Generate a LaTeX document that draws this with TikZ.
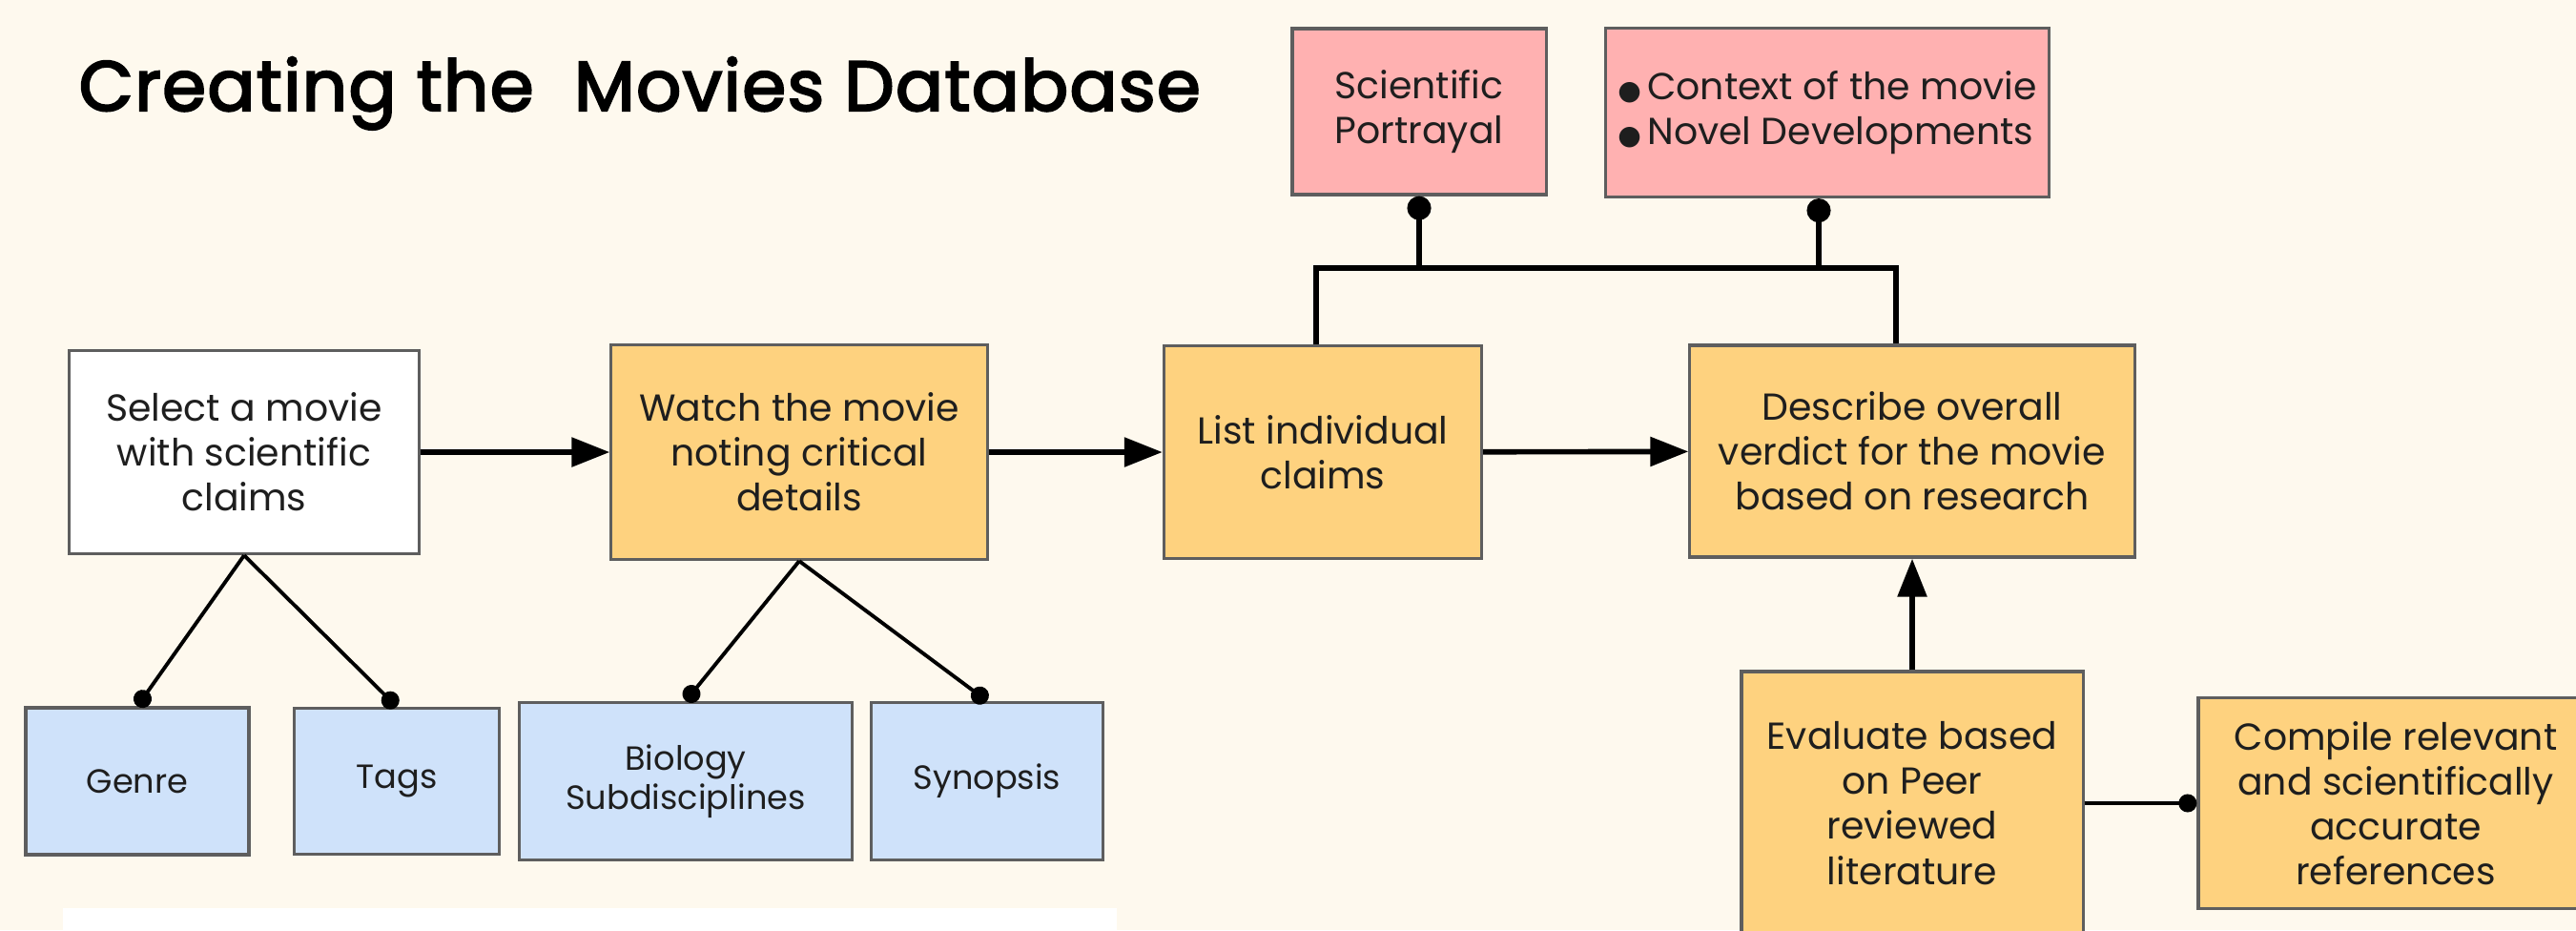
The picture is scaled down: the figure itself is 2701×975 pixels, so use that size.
\documentclass[tikz,border=0pt]{standalone}
\usepackage{fontspec}
\setmainfont{Poppins}
\newfontfamily\symfont{DejaVu Sans}
\newfontfamily\headfont{Poppins}[FakeBold=3, LetterSpace=2]
\usetikzlibrary{arrows.meta}

\definecolor{bg}{HTML}{FEF9EE}
\definecolor{boxline}{HTML}{5E5E5E}
\definecolor{orangebox}{HTML}{FED27F}
\definecolor{pinkbox}{HTML}{FFB1B1}
\definecolor{bluebox}{HTML}{CFE2FA}
\definecolor{ink}{HTML}{1E1E1E}

\tikzset{
  box/.style={draw=boxline, line width=0.9pt, align=center, text=ink, inner sep=0pt,
    font=\fontsize{11.2}{13.4}\selectfont},
  stepbox/.style={box, fill=orangebox},
  infobox/.style={box, fill=pinkbox},
  tagbox/.style={box, fill=bluebox, font=\fontsize{10}{11.7}\selectfont},
  flow/.style={line width=1.6pt, -{Triangle[length=0.40cm, width=0.30cm]}},
  branch/.style={line width=1.1pt, -{Circle[length=0.19cm]}},
  bracket/.style={line width=1.6pt},
  pin/.style={line width=1.6pt, -{Circle[length=0.25cm]}},
}

\newcommand{\bul}{{\symfont\fontsize{8}{8}\selectfont ●}\,}

\begin{document}
\begin{tikzpicture}[x=0.01cm, y=-0.01cm]
  % canvas
  \fill[bg] (0,0) rectangle (2701,975);
  \useasboundingbox (0,0) rectangle (2701,975);

  % heading
  \node[anchor=base west, inner sep=0pt, text=black,
        font=\fontsize{21}{25}\headfont] (title) at (82,116)
        {Creating the \ Movies Database};

  % white panel at the lower left
  \fill[white] (66,952) rectangle (1171,990);

  % main flow
  \node[box, fill=white, minimum width=3.66cm, minimum height=2.13cm] (sel) at (256,474)
    {Select a movie\\with scientific\\claims};
  \node[stepbox, minimum width=3.94cm, minimum height=2.25cm] (watch) at (838,474)
    {Watch the movie\\noting critical\\details};
  \node[stepbox, minimum width=3.33cm, minimum height=2.23cm] (list) at (1387,474)
    {List individual\\claims};
  \node[stepbox, minimum width=4.66cm, minimum height=2.22cm] (desc) at (2005,473)
    {Describe overall\\verdict for the movie\\based on research};

  % attributes
  \node[tagbox, minimum width=2.34cm, minimum height=1.54cm] (genre) at (144,819) {Genre};
  \node[tagbox, minimum width=2.15cm, minimum height=1.53cm] (tags) at (416,819) {Tags};
  \node[tagbox, minimum width=3.49cm, minimum height=1.65cm] (bio) at (719,819)
    {Biology\\Subdisciplines};
  \node[tagbox, minimum width=2.43cm, minimum height=1.65cm] (syn) at (1035,819) {Synopsis};

  % notes on top
  \node[infobox, minimum width=2.66cm, minimum height=1.74cm] (sci) at (1488,117)
    {Scientific\\Portrayal};
  \node[infobox, minimum width=4.65cm, minimum height=1.77cm, align=left] (ctx) at (1916,118)
    {\bul Context of the movie\\\bul Novel Developments};

  % research steps
  \node[stepbox, minimum width=3.58cm, minimum height=2.76cm] (eval) at (2005,842)
    {Evaluate based\\on Peer\\reviewed\\literature};
  \node[stepbox, minimum width=4.14cm, minimum height=2.21cm] (comp) at (2512,842)
    {Compile relevant\\and scientifically\\accurate\\references};

  % arrows between steps
  \draw[flow] (sel) -- (watch);
  \draw[flow] (watch) -- (list);
  \draw[flow] (list) -- (desc);
  \draw[flow] (eval) -- (desc);
  \draw[branch] (eval.east) -- (eval.east -| comp.west);

  % attribute branches
  \draw[branch] (sel.south) -- (genre.north);
  \draw[branch] (sel.south) -- (tags.north);
  \draw[branch] (watch.south) -- (bio.north);
  \draw[branch] (watch.south) -- (syn.north);

  % bracket joining claims and verdict to the notes
  \coordinate (bl) at (1380,281);
  \coordinate (br) at (1988,281);
  \draw[bracket] (list.north -| bl) -- (bl) -- (br) -- (desc.north -| br);
  \draw[pin] (bl -| sci) -- (sci.south);
  \draw[pin] (br -| ctx.south) ++(-9,0) coordinate (cstem) -- (cstem |- ctx.south);
\end{tikzpicture}
\end{document}
